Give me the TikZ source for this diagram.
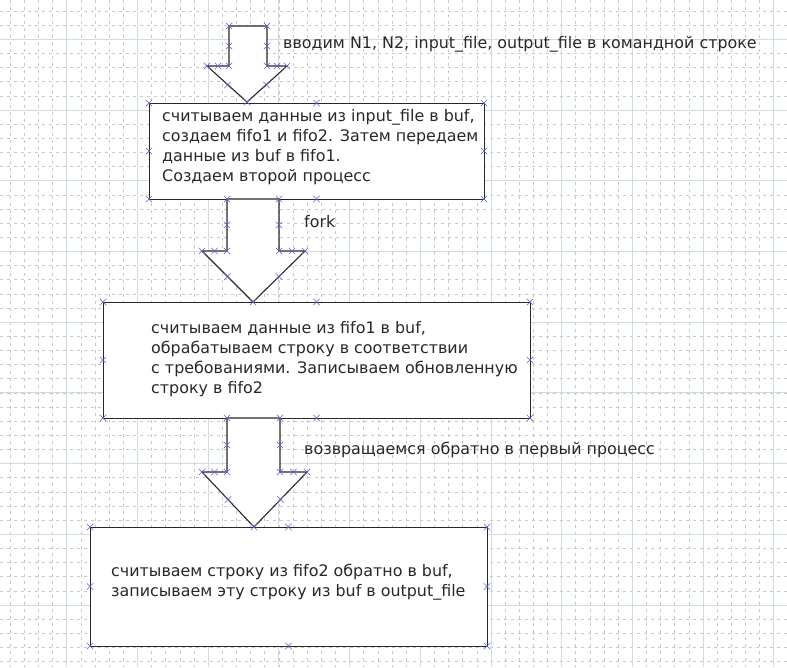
\documentclass[tikz,border=0pt]{standalone}
\usepackage{fontspec}
\setmainfont{DejaVu Sans}
\definecolor{gridmaj}{RGB}{205,221,224}
\definecolor{gridmin}{RGB}{200,200,200}
\definecolor{mkc}{RGB}{95,95,215}
\definecolor{ink}{RGB}{40,40,40}
\tikzset{
  boxst/.style={draw=ink, line width=1.2pt, fill=white, inner sep=0pt, anchor=north west},
  arrowst/.style={draw=ink, line width=1.1pt, fill=white, line join=miter},
  lbl/.style={inner sep=0pt, anchor=west, align=left, text=ink, font=\fontsize{15.9}{20}\selectfont},
  xmark/.style={draw=mkc, line width=0.6pt}
}
\begin{document}
\begin{tikzpicture}[x=1pt,y=-1pt]
\useasboundingbox (0,0) rectangle (787,667);
\fill[white] (0,0) rectangle (787,667);
% grid
\begin{scope}
\clip (0,0) rectangle (787,667);
\foreach \i in {-5,...,52} {
  \draw[gridmin, line width=0.5pt, dash pattern=on 3pt off 4pt] ({66.7+\i*14.14},0) -- ({66.7+\i*14.14},667);
}
\foreach \i in {-3,...,45} {
  \draw[gridmin, line width=0.5pt, dash pattern=on 3pt off 4pt] (0,{39.3+\i*14.14}) -- (787,{39.3+\i*14.14});
}
\foreach \i in {-1,...,10} {
  \draw[gridmaj, line width=0.8pt] ({66.7+\i*70.7},0) -- ({66.7+\i*70.7},667);
  \draw[gridmaj, line width=0.8pt] (0,{39.3+\i*70.7}) -- (787,{39.3+\i*70.7});
}
\end{scope}
% boxes
\node[boxst, minimum width=335pt, minimum height=96pt] (b1) at (149,103) {};
\node[boxst, minimum width=427pt, minimum height=116pt] (b2) at (103,302) {};
\node[boxst, minimum width=397pt, minimum height=119pt] (b3) at (90,527) {};
% block arrows
\draw[arrowst] (229,26) -- (267,26) -- (267,66) -- (287,66) -- (247,102) -- (207,66) -- (229,66) -- cycle;
\draw[arrowst] (227,199) -- (279,199) -- (279,251) -- (305,251) -- (253,302) -- (202,251) -- (227,251) -- cycle;
\draw[arrowst] (227,418) -- (280,418) -- (280,472) -- (307,472) -- (254,527) -- (202,472) -- (227,472) -- cycle;
% texts
\node[lbl] (t0) at (283,44) {вводим N1, N2, input\_file, output\_file в командной строке};
\node[lbl] (t1) at (162,147) {считываем данные из input\_file в buf,\\создаем fifo1 и fifo2. Затем передаем\\данные из buf в fifo1.\\Создаем второй процесс};
\node[lbl] (t2) at (304,222) {fork};
\node[lbl] (t3) at (151,359) {считываем данные из fifo1 в buf,\\обрабатываем строку в соответствии\\с требованиями. Записываем обновленную\\строку в fifo2};
\node[lbl] (t4) at (304,450) {возвращаемся обратно в первый процесс};
\node[lbl] (t5) at (111,582) {считываем строку из fifo2 обратно в buf,\\записываем эту строку из buf в output\_file};
% markers
\foreach \px/\py in {
  229/26,267/26,229/46,267/46,229/66,267/66,207/66,287/66,218/66,277/66,227.5/85,266.5/85,247/102,
  149/103,316.5/103,484/103,149/151,484/151,149/199,316.5/199,484/199,
  227/199,279/199,227/225,279/225,227/251,279/251,202/251,305/251,214.5/251,292/251,227.5/276.5,279/276.5,253/302,
  103/302,316.5/302,530/302,103/360,530/360,103/418,316.5/418,530/418,
  227/418,280/418,227/445,280/445,227/472,280/472,202/472,307/472,214.5/472,293.5/472,228/499.5,280.5/499.5,254/527,
  90/527,288.5/527,487/527,90/586.5,487/586.5,90/646,288.5/646,487/646}
{ \draw[xmark] (\px,\py) +(-3.2,-3.2) -- +(3.2,3.2) +(-3.2,3.2) -- +(3.2,-3.2); }
\end{tikzpicture}
\end{document}
